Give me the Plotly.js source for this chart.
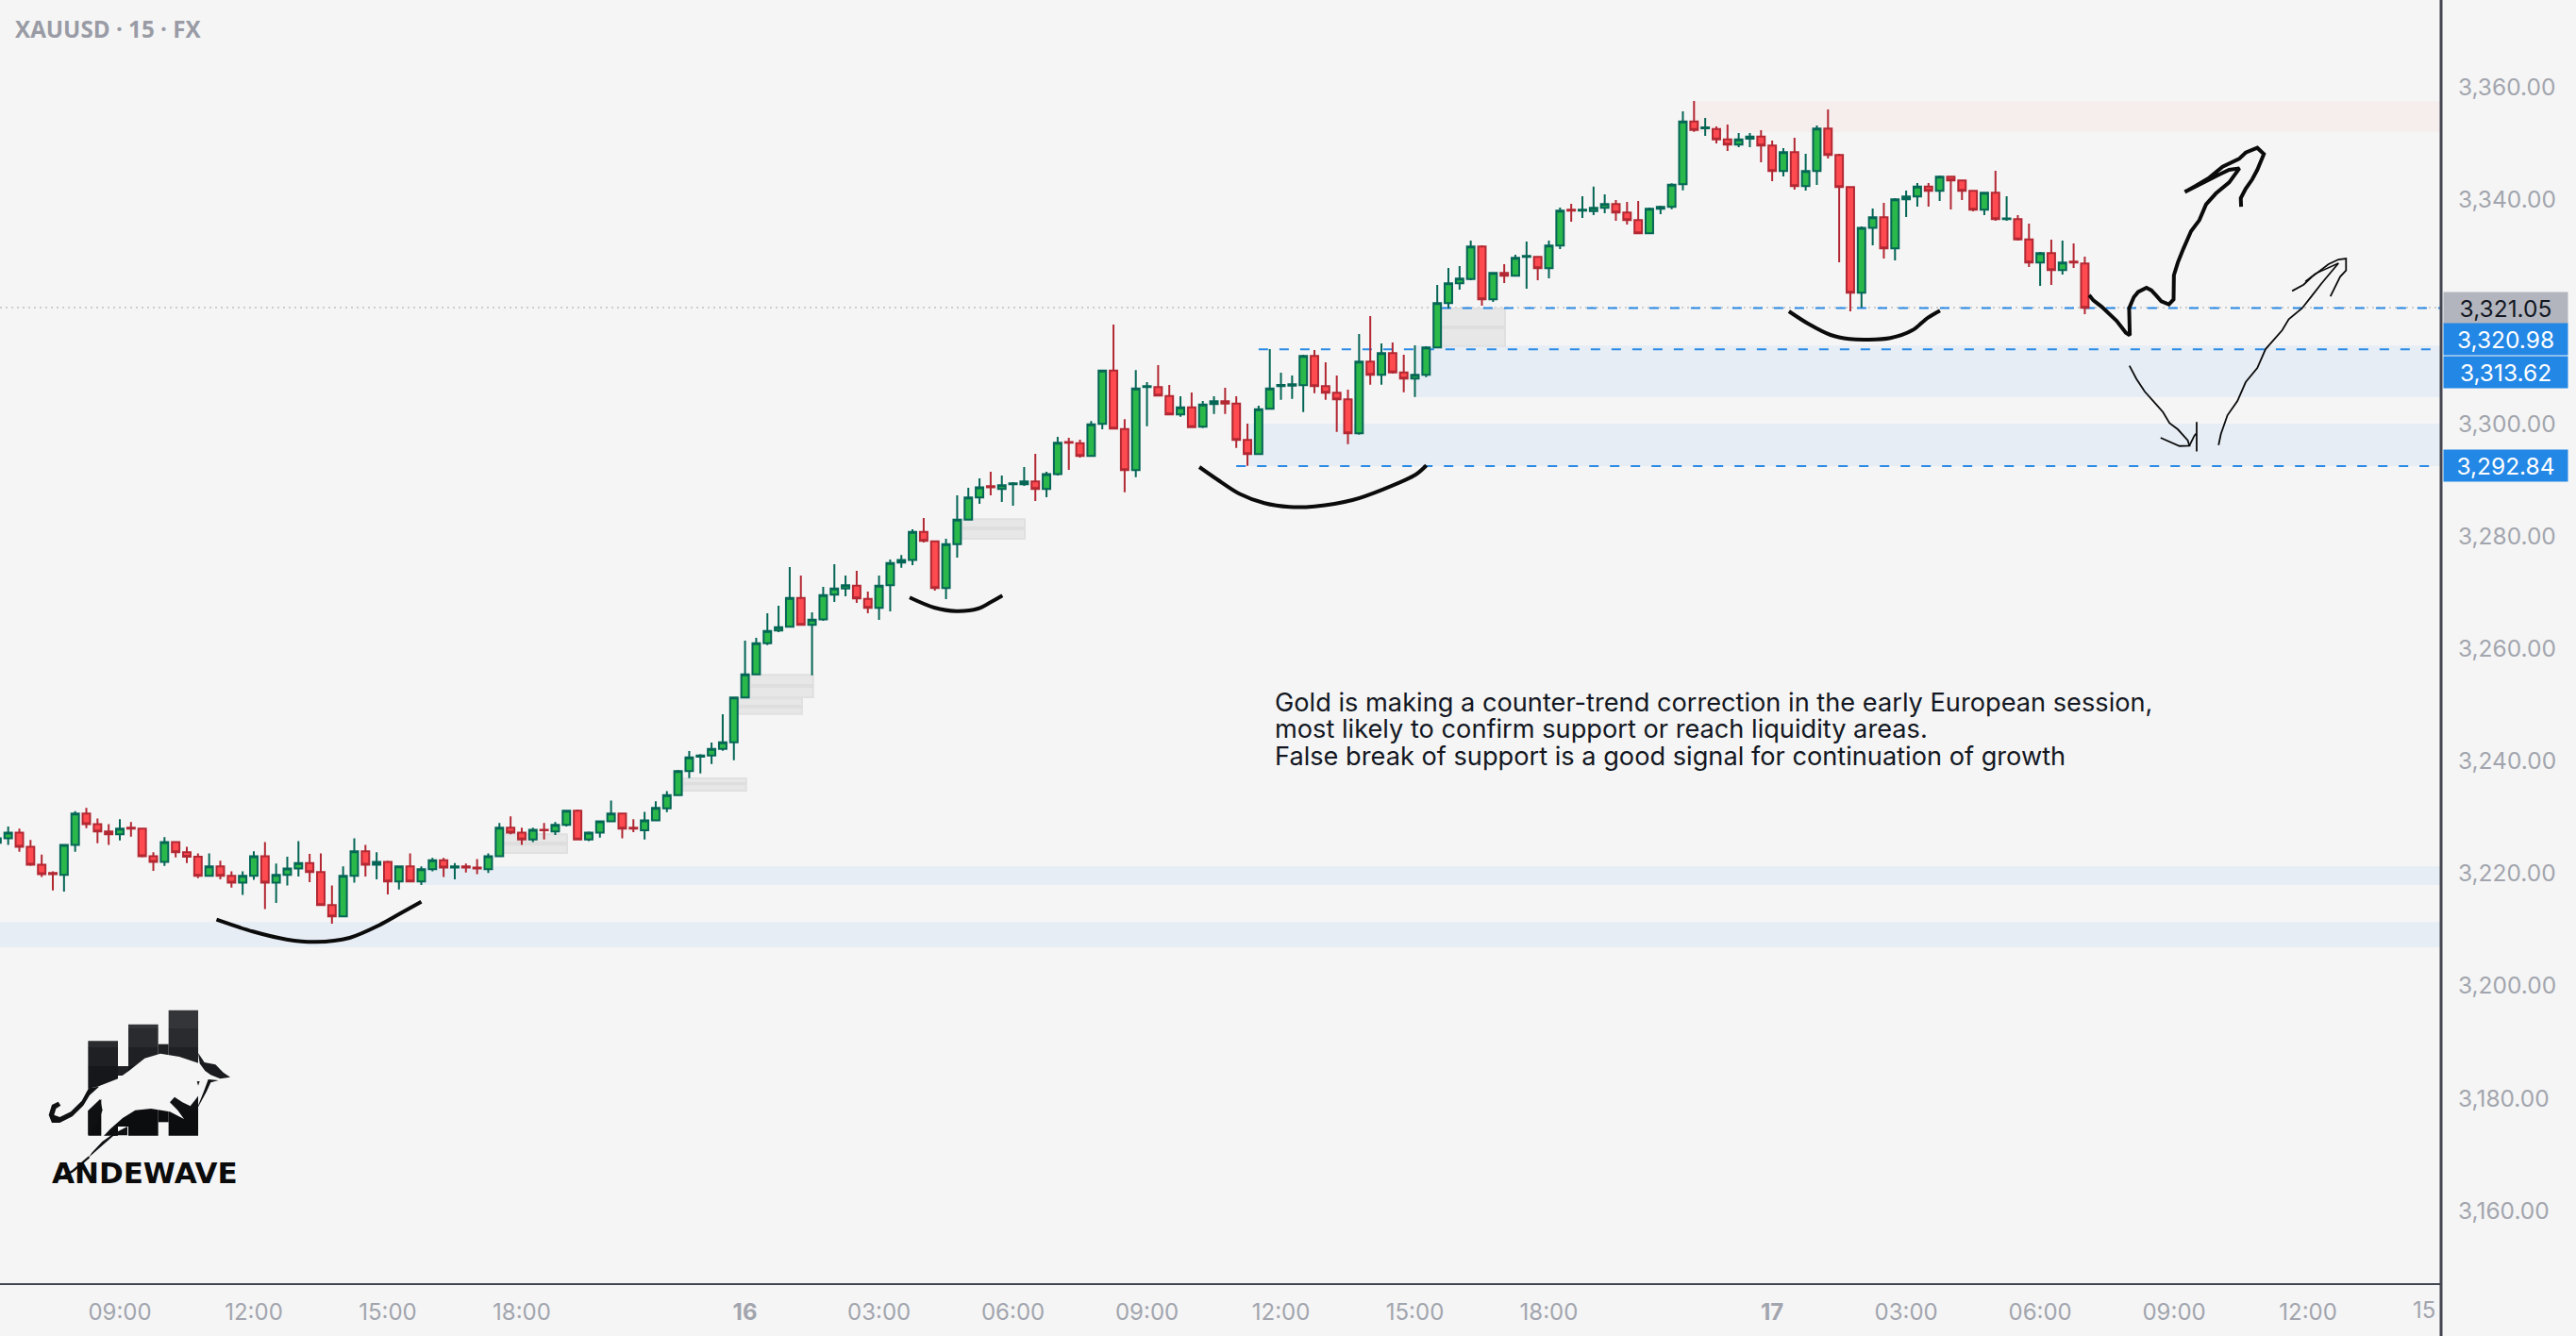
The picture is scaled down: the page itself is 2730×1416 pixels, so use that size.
<!DOCTYPE html>
<html><head><meta charset="utf-8">
<script src="https://cdn.plot.ly/plotly-3.0.1.min.js"></script>
<style>html,body{margin:0;padding:0;background:#f5f5f5;overflow:hidden}</style>
</head><body><div id="chart" style="width:2730px;height:1416px"></div>
<script>
const opens=[3225.8,3226.6,3227.6,3225.1,3221.9,3220.4,3220.1,3225.4,3231.0,3229.1,3227.8,3227.3,3228.5,3228.3,3223.4,3222.4,3225.9,3224.1,3223.3,3219.9,3221.6,3219.9,3218.7,3219.9,3223.4,3218.7,3220.1,3221.2,3222.2,3220.6,3214.7,3212.7,3219.9,3224.3,3221.9,3222.4,3218.9,3221.6,3218.9,3221.1,3222.7,3221.4,3221.6,3221.4,3221.1,3223.4,3228.5,3227.6,3226.4,3228.1,3227.8,3229.0,3231.5,3226.4,3227.6,3229.6,3231.0,3228.5,3228.0,3229.8,
3231.93,3234.28,3238.54,3241.1,3241.34,3242.51,3243.69,3251.64,3255.78,3261.32,3263.56,3264.23,3269.38,3264.57,3265.57,3269.94,3271.06,3271.56,3269.21,3267.59,3271.62,3275.65,3276.15,3281.14,3279.46,3271.12,3278.95,3283.32,3287.24,3289.25,3288.75,3289.59,3289.59,3290.09,3288.75,3291.43,3297.14,3296.92,3294.63,3300.34,3309.86,3299.44,3292.11,3306.89,3306.89,3305.32,3302.02,3303.31,3299.84,3303.87,3304.37,3303.98,3297.48,3294.97,3303.03,3307.06,3307.17,3307.23,3312.43,3307.06,3305.88,3304.71,3298.66,3311.42,3309.07,3312.93,3309.52,3308.4,3309.07,3313.94,3321.83,3325.36,3326.14,3331.91,3322.5,3327.21,3326.7,3330.06,3330.06,3328.05,3332.08,3338.46,3338.29,3338.24,3338.8,3339.47,3337.96,3336.61,3334.26,3338.63,3338.96,3342.99,3354.19,3352.95,3352.84,3351.0,3350.04,3351.11,3351.5,3349.88,3345.34,3348.7,3342.65,3345.34,3352.9,3348.2,3342.49,3323.68,3335.26,3337.11,3331.57,3340.3,3340.81,3342.6,3341.81,3344.33,3343.66,3341.81,3338.46,3341.48,3336.78,3336.78,3333.19,3329.05,3330.73,3327.71,3329.22,3328.88];
const highs=[3226.9,3228.7,3228.3,3226.3,3223.7,3220.7,3225.4,3231.4,3232.0,3230.1,3229.1,3230.0,3229.5,3228.5,3224.1,3226.8,3226.1,3225.1,3223.9,3223.9,3222.6,3220.7,3220.7,3224.3,3225.9,3222.1,3223.3,3226.1,3223.8,3223.9,3218.2,3221.6,3226.6,3225.4,3224.1,3222.6,3221.7,3223.9,3221.6,3223.1,3223.1,3222.2,3222.1,3222.9,3223.9,3229.3,3230.5,3228.5,3228.5,3229.3,3229.5,3231.5,3231.7,3227.8,3229.6,3233.3,3231.0,3230.0,3231.3,3233.2,
3235.0,3238.76,3242.12,3241.56,3243.63,3248.67,3251.64,3261.77,3262.27,3266.64,3267.98,3274.87,3273.36,3266.81,3271.34,3275.37,3273.36,3274.2,3270.5,3273.36,3276.21,3277.0,3281.58,3283.6,3279.51,3279.9,3287.63,3288.97,3290.65,3291.83,3291.15,3289.98,3292.67,3295.02,3291.83,3298.04,3297.87,3297.54,3300.84,3309.91,3318.03,3301.18,3309.91,3307.78,3310.81,3307.28,3305.27,3305.94,3304.43,3305.27,3306.78,3305.27,3300.4,3303.59,3313.66,3309.46,3308.96,3312.66,3313.5,3311.31,3308.96,3306.44,3316.35,3319.54,3314.67,3314.84,3312.66,3314.33,3314.17,3325.08,3328.1,3328.44,3332.97,3332.13,3327.21,3328.77,3330.45,3332.81,3330.06,3332.97,3338.85,3339.52,3340.87,3342.6,3341.2,3340.2,3339.86,3340.03,3338.85,3339.19,3343.16,3355.98,3357.82,3354.8,3353.29,3353.63,3352.11,3352.11,3352.62,3350.77,3349.43,3351.27,3348.42,3353.46,3356.31,3348.42,3342.49,3335.49,3338.68,3339.69,3340.53,3341.87,3343.21,3343.21,3344.56,3344.33,3343.66,3341.81,3341.65,3345.4,3340.86,3337.5,3335.99,3330.95,3333.14,3332.97,3332.47,3330.11];
const lows=[3225.5,3225.4,3224.2,3221.7,3219.7,3217.3,3217.1,3224.2,3228.4,3225.7,3225.4,3226.2,3226.9,3223.2,3220.8,3221.7,3223.2,3222.2,3219.5,3219.9,3219.3,3217.8,3216.5,3219.2,3214.0,3215.1,3218.2,3219.8,3218.8,3214.7,3211.4,3212.7,3218.7,3219.8,3219.3,3216.6,3217.5,3218.9,3218.3,3220.7,3219.7,3219.3,3220.5,3220.2,3220.4,3223.4,3227.3,3225.4,3225.9,3226.4,3227.2,3228.7,3226.4,3226.1,3226.7,3229.6,3226.6,3227.7,3226.4,3229.6,
3231.26,3234.11,3237.3,3238.14,3239.82,3242.17,3240.5,3251.64,3255.78,3260.98,3263.28,3264.23,3264.57,3255.61,3265.3,3268.65,3269.66,3268.49,3266.64,3265.46,3266.97,3274.75,3275.2,3279.23,3270.67,3269.16,3276.55,3283.32,3286.12,3287.63,3286.45,3285.78,3289.31,3286.62,3287.29,3291.15,3292.16,3294.35,3294.63,3299.39,3299.5,3288.19,3290.88,3299.95,3305.38,3302.02,3301.63,3299.61,3299.61,3302.13,3302.13,3296.09,3292.89,3294.97,3303.03,3304.65,3304.82,3302.47,3305.83,3304.65,3298.94,3296.76,3298.44,3307.34,3307.34,3309.3,3305.99,3305.15,3308.68,3313.94,3320.88,3324.24,3325.92,3321.38,3322.06,3325.42,3326.7,3324.41,3325.92,3326.26,3331.46,3336.33,3337.0,3337.5,3337.84,3336.5,3335.83,3334.26,3334.26,3337.68,3338.57,3341.93,3352.34,3351.61,3350.27,3348.92,3349.6,3349.6,3346.91,3343.55,3344.39,3342.04,3341.87,3342.88,3347.58,3329.1,3320.37,3321.05,3332.13,3329.78,3329.44,3337.17,3339.01,3339.01,3340.02,3338.51,3340.19,3338.18,3337.5,3336.5,3336.5,3332.97,3328.27,3324.91,3325.08,3326.92,3328.1,3319.87];
const closes=[3226.6,3227.6,3225.1,3221.9,3220.2,3220.2,3225.4,3231.0,3229.1,3227.8,3227.3,3228.3,3228.3,3223.4,3222.4,3225.9,3224.1,3223.3,3219.9,3221.6,3219.9,3218.7,3219.9,3223.4,3218.7,3220.1,3221.2,3222.2,3220.6,3214.7,3212.7,3219.9,3224.3,3221.9,3222.4,3218.9,3221.6,3218.9,3221.1,3222.7,3221.4,3221.6,3221.4,3221.2,3223.4,3228.5,3227.6,3226.4,3228.1,3228.0,3229.0,3231.5,3226.4,3227.6,3229.6,3231.0,3228.3,3228.3,3229.8,3232.0,
3234.28,3238.54,3241.0,3241.34,3242.51,3243.69,3251.64,3255.78,3261.32,3263.5,3264.17,3269.38,3264.57,3265.52,3269.88,3271.06,3271.62,3269.27,3267.59,3271.56,3275.6,3276.15,3281.14,3279.51,3271.12,3278.95,3283.32,3287.24,3289.08,3289.08,3289.42,3289.76,3290.09,3288.75,3291.43,3296.98,3296.98,3294.63,3300.28,3309.86,3299.5,3292.11,3306.67,3307.06,3305.38,3302.02,3303.31,3299.78,3303.81,3304.37,3303.98,3297.48,3294.97,3302.97,3306.67,3307.28,3307.39,3312.43,3307.06,3305.88,3304.71,3298.66,3311.42,3309.07,3312.93,3309.52,3308.4,3309.07,3313.94,3321.83,3325.36,3326.2,3331.91,3322.5,3327.21,3326.7,3329.89,3330.23,3328.05,3332.08,3338.29,3338.29,3338.46,3338.8,3339.47,3337.96,3336.61,3334.26,3338.63,3338.96,3342.93,3354.19,3352.67,3353.12,3351.0,3350.04,3351.0,3351.5,3349.88,3345.34,3348.7,3342.65,3345.34,3352.9,3348.2,3342.49,3323.68,3335.26,3337.11,3331.57,3340.3,3340.81,3342.6,3341.81,3344.33,3343.66,3341.81,3338.46,3341.48,3336.78,3336.94,3333.19,3329.05,3330.73,3327.71,3329.05,3329.05,3321.0];

const timeTickIndex=[11,23,35,47,67,79,91,103,115,127,139,159,171,183,195,207];
const timeTickText=['09:00','12:00','15:00','18:00','<b>16</b>','03:00','06:00','09:00','12:00','15:00','18:00','<b>17</b>','03:00','06:00','09:00','12:00'];
const priceTicks=[3160,3180,3200,3220,3240,3260,3280,3300,3320,3340,3360];
const priceTickVals=priceTicks.filter(p=>p!==3320);
const priceTickText=priceTickVals.map(p=>p.toLocaleString('en-US',{minimumFractionDigits:2}));

const demandZones=[[0,3211.7,3207.2],[37.96,3221.6,3218.3],[112,3300.4,3292.84],[127.1,3314.3,3305.15]];
const supplyZones=[[152,3357.8,3352.3]];
const gapZones=[[45.3,51.06,3227.3,3224.0,3226.0,3225.3],[61.45,67.1,3237.25,3235.07,3236.58,3236.02],[66.4,72.1,3251.5,3248.7,3250.35,3249.73],[67.46,73.1,3255.7,3251.7,3254.04,3253.37],[86.4,92.05,3283.4,3279.9,3282.09,3281.47],[129.3,135.07,3320.9,3314.2,3317.86,3317.24]];
const levelLines=[[129.4,3320.98],[113,3313.62],[111,3292.84]];
const lastClose=3321.05;

const curveAx=[19.66,22.91,25.93,28.56,31.58,34.22,36.1,38.0], curveAy=[3212.12,3210.0,3208.59,3208.15,3208.88,3211.11,3213.19,3215.31];
const curveBx=[81.74,83.94,85.9,87.88,89.0,90.05], curveBy=[3269.45,3267.65,3267.03,3267.48,3268.61,3269.78];
const curveCx=[107.69,109.3,111.26,113.52,115.77,118.02,121.4,124.22,127.04,128.03], curveCy=[3292.67,3290.44,3287.92,3286.24,3285.57,3285.67,3286.79,3288.76,3291.28,3292.96];
const curveDx=[160.5,162.25,164.23,165.92,167.61,169.58,171.55,172.96,174.03], curveDy=[3320.38,3318.15,3316.18,3315.46,3315.34,3315.63,3317.02,3319.25,3320.5];
const arrowUpX=[187.39,187.77,188.51,189.25,189.85,190.29,190.68,191.03,190.97,191.39,191.78,192.52,192.96,193.41,193.85,194.53,194.95,194.98,195.33,195.84,196.52,197.26,197.86,198.74,199.93,200.85,199.93,199.04,197.86,196.97,195.96,196.97,198.15,199.34,200.82,201.41,202.45,203.04,202.45,202.0,201.41,200.97,201.0];
const arrowUpY=[3323.28,3322.33,3321.21,3319.81,3318.69,3317.57,3316.57,3316.12,3320.93,3322.89,3323.84,3324.57,3324.12,3323.17,3322.16,3321.6,3322.5,3326.81,3329.05,3331.57,3334.65,3336.61,3339.41,3341.36,3343.32,3345.84,3345.56,3344.72,3343.6,3342.76,3341.64,3342.76,3344.16,3346.12,3347.52,3348.64,3349.48,3348.36,3345.56,3343.88,3342.2,3340.52,3339.01];
const thinDownX=[191.0,191.63,192.37,193.26,194.0,194.59,195.33,196.22,196.37,195.48,194.59,193.79], thinDownY=[3310.69,3308.34,3306.1,3304.14,3302.46,3300.5,3299.38,3297.42,3296.47,3296.41,3297.14,3297.87];
const thinTickX=[196.37,196.82,197.02,197.02,197.02], thinTickY=[3296.47,3298.26,3298.7,3300.67,3295.46];
const thinUpX=[198.98,199.19,199.78,200.67,201.41,202.45,203.19,204.68,205.27,206.46,207.35,208.23,209.72], thinUpY=[3296.58,3298.54,3301.9,3304.42,3307.78,3310.3,3313.65,3317.01,3318.97,3320.93,3323.17,3325.41,3328.94];
const thinHeadX=[209.0,209.42,209.87,210.4,210.4,209.72,208.83,207.35,206.6,205.57], thinHeadY=[3323.06,3324.85,3326.53,3327.65,3329.78,3329.61,3328.77,3326.53,3325.13,3324.01];
const thinInnerX=[209.72,207.64,206.75], thinInnerY=[3328.94,3327.09,3325.69];

const noteLines=['Gold is making a counter-trend correction in the early European session,','most likely to confirm support or reach liquidity areas.','False break of support is a good signal for continuation of growth'];

const W=2587,H=1360,fontMain='Inter, Roboto, sans-serif',tickColor='#a2a5ae';
const px=x=>x/W, py=y=>1-y/H;
const xi=x=>(x+3.15)/11.832;
const rightEnd=219;
const shapes=[];
demandZones.forEach(z=>shapes.push({type:'rect',layer:'below',xref:'x',yref:'y',x0:z[0],x1:rightEnd,y0:z[2],y1:z[1],fillcolor:'#e6edf5',line:{width:0}}));
supplyZones.forEach(z=>shapes.push({type:'rect',layer:'below',xref:'x',yref:'y',x0:z[0],x1:rightEnd,y0:z[2],y1:z[1],fillcolor:'#f6eded',line:{width:0}}));
gapZones.forEach(z=>{
 shapes.push({type:'rect',layer:'below',xref:'x',yref:'y',x0:z[0],x1:z[1],y0:z[3],y1:z[2],fillcolor:'#e7e7e7',line:{width:2,color:'#e0e0e0'}});
 shapes.push({type:'rect',layer:'below',xref:'x',yref:'y',x0:z[0],x1:z[1],y0:z[5],y1:z[4],fillcolor:'#dedede',line:{width:0}});
});
shapes.push({type:'line',layer:'below',xref:'paper',yref:'y',x0:0,x1:1,y0:lastClose,y1:lastClose,line:{color:'#cdcdcd',width:2,dash:'2px,4px'}});
levelLines.forEach(l=>shapes.push({type:'line',layer:'below',xref:'x',yref:'y',x0:l[0],x1:rightEnd,y0:l[1],y1:l[1],line:{color:'#2a8ae6',width:2,dash:'10px,12px'}}));
shapes.push({type:'line',xref:'paper',yref:'paper',x0:1,x1:1,y0:py(0),y1:py(1416),line:{color:'#434651',width:3}});

const lx=z=>px(20+z/3), ly=Y=>py(1040+Y/3);
const poly=(pts,fill)=>shapes.push({type:'path',xref:'paper',yref:'paper',layer:'above',fillcolor:fill,line:{width:0},path:'M'+pts.map(p=>lx(p[0]).toFixed(5)+','+ly(p[1]).toFixed(5)).join(' L')+' Z'});
const bands=[[92,'#343538'],[150,'#2a2b2e'],[210,'#1f2023'],[270,'#16171a'],[340,'#101113'],[410,'#0c0d0f']];
[[220,315,190],[348,443,137],[476,570,92]].forEach(b=>{
 bands.forEach((s,i)=>{
  const end=i<bands.length-1?bands[i+1][0]:490, start=Math.max(s[0],b[2]);
  if(end>start) poly([[b[0],start],[b[1],start],[b[1],end+1],[b[0],end+1]],s[1]);
 });
});
poly([[443,200],[476,200],[476,300],[443,300]],'#1f2023');
poly([[315,270],[348,270],[348,300],[315,300]],'#1f2023');
poly([[315,400],[348,400],[348,462],[315,462]],'#0c0d0f');
poly([[443,400],[476,400],[476,448],[443,448]],'#0c0d0f');
poly([[200,345],[250,335],[315,310],[350,285],[400,245],[450,230],[510,240],[575,262],[590,285],[610,300],[635,312],[600,312],[585,345],[560,378],[545,397],[520,385],[495,368],[480,385],[505,410],[525,438],[480,415],[420,405],[370,410],[330,435],[290,470],[262,500],[262,375],[220,412],[220,500],[200,500]],'#f5f5f5');
poly([[220,412],[258,375],[266,410],[250,450],[220,490]],'#0f1012');
poly([[255,335],[225,362],[205,395],[170,430],[130,450],[105,450],[95,425],[105,393],[125,383],[133,395],[118,405],[112,425],[130,432],[165,415],[200,380],[222,340]],'#0f1012');
poly([[570,228],[590,258],[625,265],[650,290],[672,305],[640,310],[610,298],[592,285],[575,262]],'#1a1b1e');
poly([[570,395],[590,345],[602,312],[635,315],[610,322],[597,350],[570,400]],'#0f1012');
poly([[345,462],[300,485],[265,510],[232,545],[222,560],[262,525],[300,492],[315,490],[345,490]],'#0f1012');
poly([[222,556],[170,600],[125,628],[128,632],[175,605],[225,562]],'#0f1012');
poly([[566,318],[575,318],[570,332]],'#1a1b1e');

const priceBoxes=[['3,321.05',326,'#b2b5be','#131722'],['3,320.98',360,'#2387e6','#ffffff'],['3,313.62',394,'#2387e6','#ffffff'],['3,292.84',493.5,'#2387e6','#ffffff']];
const annotations=[];
priceBoxes.forEach(b=>annotations.push({xref:'paper',yref:'paper',x:2589/W,y:py(b[1]),xanchor:'left',yanchor:'middle',text:b[0],showarrow:false,width:131,height:33,align:'center',valign:'middle',bgcolor:b[2],borderpad:0,font:{family:fontMain,size:24.5,color:b[3]}}));
noteLines.forEach((t,i)=>annotations.push({xref:'paper',yref:'paper',x:1349/W,y:py(744+i*28.5),xanchor:'left',yanchor:'middle',text:t,showarrow:false,align:'left',font:{family:fontMain,size:27.2,color:'#131722'}}));
annotations.push({xref:'x',yref:'paper',x:xi(2555),y:py(1388),xanchor:'left',yanchor:'middle',text:'15',showarrow:false,font:{family:fontMain,size:24,color:tickColor}});
annotations.push({xref:'paper',yref:'paper',x:px(53),y:py(1243),xanchor:'left',yanchor:'middle',text:'<b>ANDEWAVE</b>',showarrow:false,font:{family:'DejaVu Sans',size:31,color:'#0b0b0b'}});

const ink='#0b0b0b';
const stroke=(x,y,w,sp)=>({type:'scatter',mode:'lines',x:x,y:y,hoverinfo:'skip',showlegend:false,line:{color:ink,width:w,shape:sp?'spline':'linear',smoothing:0.9}});
const traces=[{
 type:'candlestick',x:opens.map((_,i)=>i),open:opens,high:highs,low:lows,close:closes,
 whiskerwidth:0,hoverinfo:'skip',showlegend:false,
 increasing:{fillcolor:'#2bb84b',line:{color:'#056656',width:2}},
 decreasing:{fillcolor:'#ff4a50',line:{color:'#b22833',width:2}}
},
 stroke(curveAx,curveAy,4,true),stroke(curveBx,curveBy,4,true),stroke(curveCx,curveCy,4,true),stroke(curveDx,curveDy,4,true),
 stroke(arrowUpX,arrowUpY,4,false),stroke(thinDownX,thinDownY,1.8,false),stroke(thinTickX,thinTickY,1.8,false),stroke(thinUpX,thinUpY,1.8,false),stroke(thinHeadX,thinHeadY,1.8,false),stroke(thinInnerX,thinInnerY,1.5,false)];

const layout={
 width:2730,height:1416,autosize:false,showlegend:false,dragmode:false,
 boxgap:0.18,boxgroupgap:0.18,
 paper_bgcolor:'#f5f5f5',plot_bgcolor:'#f5f5f5',
 margin:{l:0,r:143,t:0,b:1416-H,pad:0,autoexpand:false},
 title:{text:'<b>XAUUSD · 15 · FX</b>',xref:'container',yref:'container',x:16/2730,y:1-32/1416,xanchor:'left',yanchor:'middle',font:{family:'"Open Sans", sans-serif',size:24.2,color:'#999ba5'}},
 xaxis:{type:'linear',range:[xi(0),xi(2587)],tickmode:'array',tickvals:timeTickIndex,ticktext:timeTickText,showgrid:false,zeroline:false,showline:true,linecolor:'#434651',linewidth:2,ticks:'outside',ticklen:8,tickcolor:'rgba(0,0,0,0)',tickfont:{family:fontMain,size:24,color:tickColor},rangeslider:{visible:false}},
 yaxis:{type:'linear',side:'right',range:[3321.05-(H-326)/5.955,3321.05+326/5.955],tickmode:'array',tickvals:priceTickVals,ticktext:priceTickText,showgrid:false,zeroline:false,showline:false,ticks:'outside',ticklen:12,tickcolor:'rgba(0,0,0,0)',ticklabelshift:-2,tickfont:{family:fontMain,size:24.5,color:tickColor}},
 shapes:shapes,annotations:annotations
};
Plotly.newPlot('chart',traces,layout,{staticPlot:true,displayModeBar:false});
</script></body></html>
